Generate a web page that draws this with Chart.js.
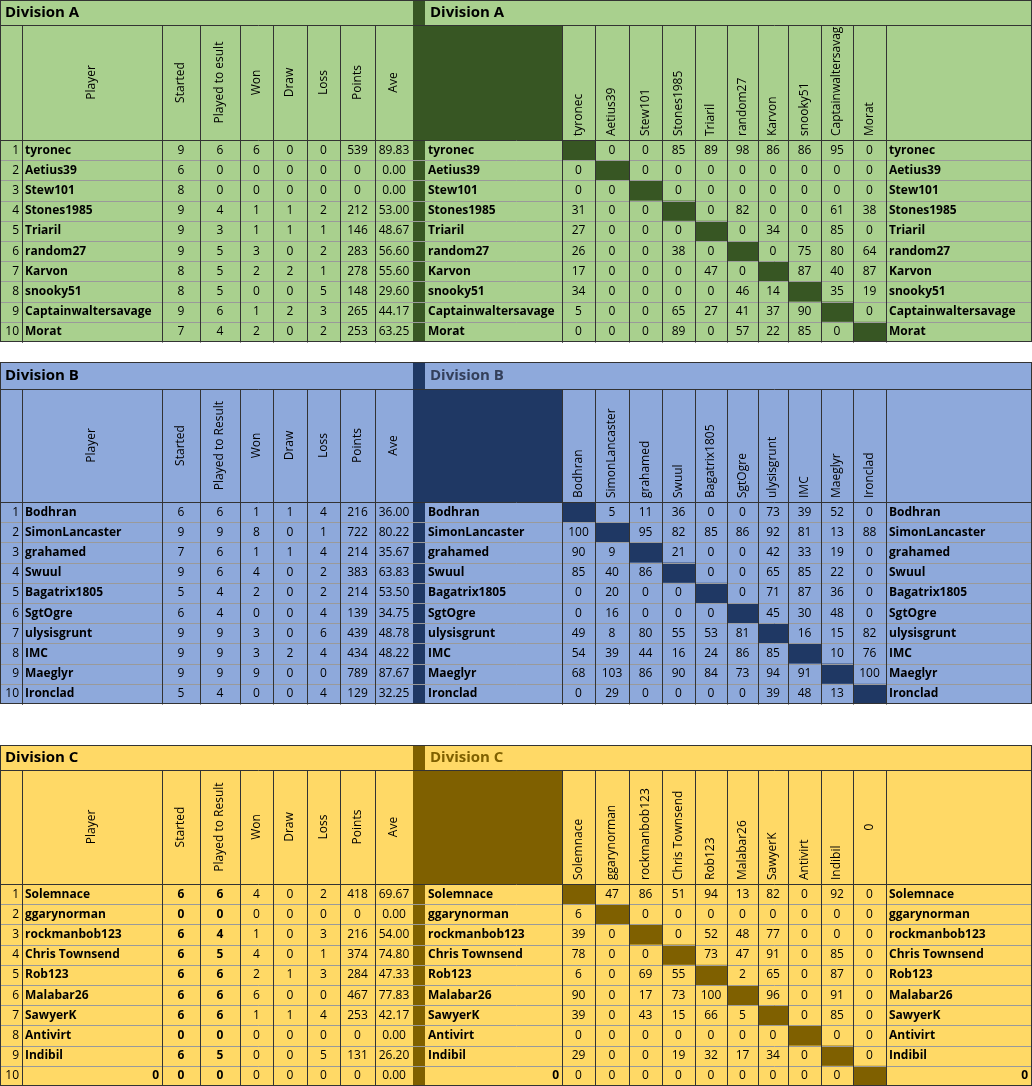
<!DOCTYPE html>
<html>
<head>
<meta charset="utf-8">
<script src="https://cdn.jsdelivr.net/npm/chart.js@4/dist/chart.umd.min.js"></script>
<style>
  html, body { margin: 0; padding: 0; background: #fff; }
  canvas { display: block; }
</style>
</head>
<body>
<canvas id="tabela" width="1032" height="1086"></canvas>
<script>
// ---- Division A ----
const playersA = ['tyronec','Aetius39','Stew101','Stones1985','Triaril','random27','Karvon','snooky51','Captainwaltersavage','Morat'];
const startedA = [9,6,8,9,9,9,8,8,9,7];
const playedA  = [6,0,0,4,3,5,5,5,6,4];
const wonA     = [6,0,0,1,1,3,2,0,1,2];
const drawA    = [0,0,0,1,1,0,2,0,2,0];
const lossA    = [0,0,0,2,1,2,1,5,3,2];
const pointsA  = [539,0,0,212,146,283,278,148,265,253];
const aveA     = ['89.83','0.00','0.00','53.00','48.67','56.60','55.60','29.60','44.17','63.25'];
const matrixA = [
  [null,0,0,85,89,98,86,86,95,0],
  [0,null,0,0,0,0,0,0,0,0],
  [0,0,null,0,0,0,0,0,0,0],
  [31,0,0,null,0,82,0,0,61,38],
  [27,0,0,0,null,0,34,0,85,0],
  [26,0,0,38,0,null,0,75,80,64],
  [17,0,0,0,47,0,null,87,40,87],
  [34,0,0,0,0,46,14,null,35,19],
  [5,0,0,65,27,41,37,90,null,0],
  [0,0,0,89,0,57,22,85,0,null]
];

// ---- Division B ----
const playersB = ['Bodhran','SimonLancaster','grahamed','Swuul','Bagatrix1805','SgtOgre','ulysisgrunt','IMC','Maeglyr','Ironclad'];
const startedB = [6,9,7,9,5,6,9,9,9,5];
const playedB  = [6,9,6,6,4,4,9,9,9,4];
const wonB     = [1,8,1,4,2,0,3,3,9,0];
const drawB    = [1,0,1,0,0,0,0,2,0,0];
const lossB    = [4,1,4,2,2,4,6,4,0,4];
const pointsB  = [216,722,214,383,214,139,439,434,789,129];
const aveB     = ['36.00','80.22','35.67','63.83','53.50','34.75','48.78','48.22','87.67','32.25'];
const matrixB = [
  [null,5,11,36,0,0,73,39,52,0],
  [100,null,95,82,85,86,92,81,13,88],
  [90,9,null,21,0,0,42,33,19,0],
  [85,40,86,null,0,0,65,85,22,0],
  [0,20,0,0,null,0,71,87,36,0],
  [0,16,0,0,0,null,45,30,48,0],
  [49,8,80,55,53,81,null,16,15,82],
  [54,39,44,16,24,86,85,null,10,76],
  [68,103,86,90,84,73,94,91,null,100],
  [0,29,0,0,0,0,39,48,13,null]
];

// ---- Division C ----
const playersC = ['Solemnace','ggarynorman','rockmanbob123','Chris Townsend','Rob123','Malabar26','SawyerK','Antivirt','Indibil','0'];
const startedC = [6,0,6,6,6,6,6,0,6,0];
const playedC  = [6,0,4,5,6,6,6,0,5,0];
const wonC     = [4,0,1,4,2,6,1,0,0,0];
const drawC    = [0,0,0,0,1,0,1,0,0,0];
const lossC    = [2,0,3,1,3,0,4,0,5,0];
const pointsC  = [418,0,216,374,284,467,253,0,131,0];
const aveC     = ['69.67','0.00','54.00','74.80','47.33','77.83','42.17','0.00','26.20','0.00'];
const matrixC = [
  [null,47,86,51,94,13,82,0,92,0],
  [6,null,0,0,0,0,0,0,0,0],
  [39,0,null,0,52,48,77,0,0,0],
  [78,0,0,null,73,47,91,0,85,0],
  [6,0,69,55,null,2,65,0,87,0],
  [90,0,17,73,100,null,96,0,91,0],
  [39,0,43,15,66,5,null,0,85,0],
  [0,0,0,0,0,0,0,null,0,0],
  [29,0,0,19,32,17,34,0,null,0],
  [0,0,0,0,0,0,0,0,0,null]
];

const statLabelsA = ['Player','Started','Played to esult','Won','Draw','Loss','Points','Ave'];
const statLabelsBC = ['Player','Started','Played to Result','Won','Draw','Loss','Points','Ave'];
const colHeadsC = ['Solemnace','ggarynorman','rockmanbob123','Chris Townsend','Rob123','Malabar26','SawyerK','Antivirt','Indibil','0'];

// layout (não são dados)
const LEFT_EDGES = [0,22,162,200,240,273,307,340,375,413];
const SEP = [413,425];
const NAME_COL = [425,562];
const MAT_EDGES = [562,595,629,662,695,727,758,788,821,853,886];
const RIGHT_COL = [886,1032];

const divisions = [
  { title:'Division A', top:0, head:25, rows:140, bottom:342, bg:'#a9d08e', dark:'#375623', rightTitle:'#000',
    players:playersA, cols:[startedA,playedA,wonA,drawA,lossA,pointsA,aveA], labels:statLabelsA,
    heads:['tyronec','Aetius39','Stew101','Stones1985','Triaril','random27','Karvon','snooky51','Captainwaltersavage','Morat'],
    matrix:matrixA, boldStats:false },
  { title:'Division B', top:362, head:389, rows:502, bottom:704, bg:'#8ea9db', dark:'#1f3864', rightTitle:'#333f5a',
    players:playersB, cols:[startedB,playedB,wonB,drawB,lossB,pointsB,aveB], labels:statLabelsBC,
    heads:playersB, matrix:matrixB, boldStats:false },
  { title:'Division C', top:745, head:770, rows:884, bottom:1086, bg:'#ffd966', dark:'#7f6000', rightTitle:'#7f6000',
    players:playersC, cols:[startedC,playedC,wonC,drawC,lossC,pointsC,aveC], labels:statLabelsBC,
    heads:colHeadsC, matrix:matrixC, boldStats:true }
];

const FONT = '"Open Sans", "Noto Sans", sans-serif';

const tablePlugin = {
  id: 'tablePlugin',
  afterDraw(chart) {
    const ctx = chart.ctx;
    const xs = chart.scales.x, ys = chart.scales.y;
    const X = v => xs.getPixelForValue(v);
    const Y = v => ys.getPixelForValue(v);
    const rect = (x0, y0, x1, y1, c) => { ctx.fillStyle = c; ctx.fillRect(X(x0), Y(y0), X(x1) - X(x0), Y(y1) - Y(y0)); };
    const line = (x0, y0, x1, y1, c, w, dash) => {
      ctx.save(); ctx.strokeStyle = c; ctx.lineWidth = w || 1; ctx.setLineDash(dash || []);
      ctx.beginPath(); ctx.moveTo(Math.round(X(x0)) + 0.5, Math.round(Y(y0)) + 0.5);
      ctx.lineTo(Math.round(X(x1)) + 0.5, Math.round(Y(y1)) + 0.5); ctx.stroke(); ctx.restore();
    };
    const text = (s, x, y, align, bold, color, size) => {
      ctx.font = (bold ? 'bold ' : '') + (size || 12) + 'px ' + FONT;
      ctx.fillStyle = color || '#000'; ctx.textAlign = align || 'center'; ctx.textBaseline = 'middle';
      ctx.fillText(String(s), X(x), Y(y));
    };
    const vtext = (s, cx, yBottom, yMid, bottomAlign, clipTop) => {
      ctx.save();
      ctx.font = '12px ' + FONT; ctx.fillStyle = '#000'; ctx.textBaseline = 'middle';
      if (clipTop !== undefined) { ctx.beginPath(); ctx.rect(0, Y(clipTop), 1032, Y(yBottom) - Y(clipTop)); ctx.clip(); }
      if (bottomAlign) { ctx.translate(X(cx), Y(yBottom) - 4); ctx.rotate(-Math.PI / 2); ctx.textAlign = 'left'; }
      else { ctx.translate(X(cx), Y(yMid)); ctx.rotate(-Math.PI / 2); ctx.textAlign = 'center'; }
      ctx.fillText(s, 0, 0);
      ctx.restore();
    };

    divisions.forEach(d => {
      const rh = (d.bottom - d.rows) / 10;
      rect(0, d.top, 1032, d.bottom, d.bg);
      // separator + name header cell
      rect(SEP[0], d.top, SEP[1], d.bottom, d.dark);
      rect(NAME_COL[0], d.head, NAME_COL[1], d.rows, d.dark);
      // diagonal
      for (let i = 0; i < 10; i++) rect(MAT_EDGES[i], d.rows + i * rh, MAT_EDGES[i + 1], d.rows + (i + 1) * rh, d.dark);

      // grid lines
      line(0, d.head, 1032, d.head, '#333', 1);
      line(0, d.rows, 1032, d.rows, '#333', 1);
      for (let i = 1; i < 10; i++) line(0, d.rows + i * rh, 1032, d.rows + i * rh, '#9a9a9a', 1);
      LEFT_EDGES.slice(1, -1).forEach(x => line(x, d.head, x, d.bottom, '#333', 1));
      line(22, d.head, 22, d.bottom, '#333', 1);
      MAT_EDGES.forEach(x => line(x, d.head, x, d.bottom, '#333', 1));
      line(NAME_COL[1], d.rows, NAME_COL[1], d.bottom, '#333', 1, [2, 2]);
      ctx.strokeStyle = '#333'; ctx.lineWidth = 1;
      ctx.strokeRect(X(0) + 0.5, Y(d.top) + 0.5, X(1032) - X(0) - 1, Y(d.bottom) - Y(d.top) - 1);

      // titles
      text(d.title, 5, (d.top + d.head) / 2, 'left', true, '#000', 15);
      text(d.title, 430, (d.top + d.head) / 2, 'left', true, d.rightTitle, 15);

      // left headers
      const midH = (d.head + d.rows) / 2;
      d.labels.forEach((lab, k) => {
        const cx = (LEFT_EDGES[k + 1] + LEFT_EDGES[k + 2]) / 2;
        vtext(lab, cx, d.rows, midH, false);
      });
      // matrix headers
      d.heads.forEach((h, k) => {
        const cx = (MAT_EDGES[k] + MAT_EDGES[k + 1]) / 2;
        if (/^\d+$/.test(h)) { ctx.save(); ctx.font = 'bold 12px ' + FONT; ctx.restore(); vtext(h, cx, d.rows, midH, false); }
        else vtext(h, cx, d.rows, midH, true, d.head + 2);
      });

      // rows
      for (let i = 0; i < 10; i++) {
        const cy = d.rows + (i + 0.5) * rh;
        text(i + 1, 19, cy, 'right', false);
        const name = d.players[i];
        const numName = /^\d+$/.test(name);
        if (numName) {
          text(name, 159, cy, 'right', true);
          text(name, 559, cy, 'right', true);
          text(name, 1028, cy, 'right', true);
        } else {
          text(name, 25, cy, 'left', true);
          text(name, 428, cy, 'left', true);
          text(name, 889, cy, 'left', true);
        }
        d.cols.forEach((col, k) => {
          const cx = (LEFT_EDGES[k + 2] + LEFT_EDGES[k + 3]) / 2;
          text(col[i], cx, cy, 'center', d.boldStats && k < 2);
        });
        d.matrix[i].forEach((v, j) => {
          if (v === null) return;
          text(v, (MAT_EDGES[j] + MAT_EDGES[j + 1]) / 2, cy, 'center', false);
        });
      }
    });
  }
};

new Chart(document.getElementById('tabela'), {
  type: 'scatter',
  data: { datasets: [{ data: [], pointRadius: 0 }] },
  options: {
    responsive: false,
    animation: false,
    devicePixelRatio: 1,
    layout: { padding: 0 },
    plugins: { legend: { display: false }, tooltip: { enabled: false } },
    scales: {
      x: { type: 'linear', min: 0, max: 1032, display: false },
      y: { type: 'linear', min: 0, max: 1086, reverse: true, display: false }
    }
  },
  plugins: [tablePlugin]
});
</script>
</body>
</html>
